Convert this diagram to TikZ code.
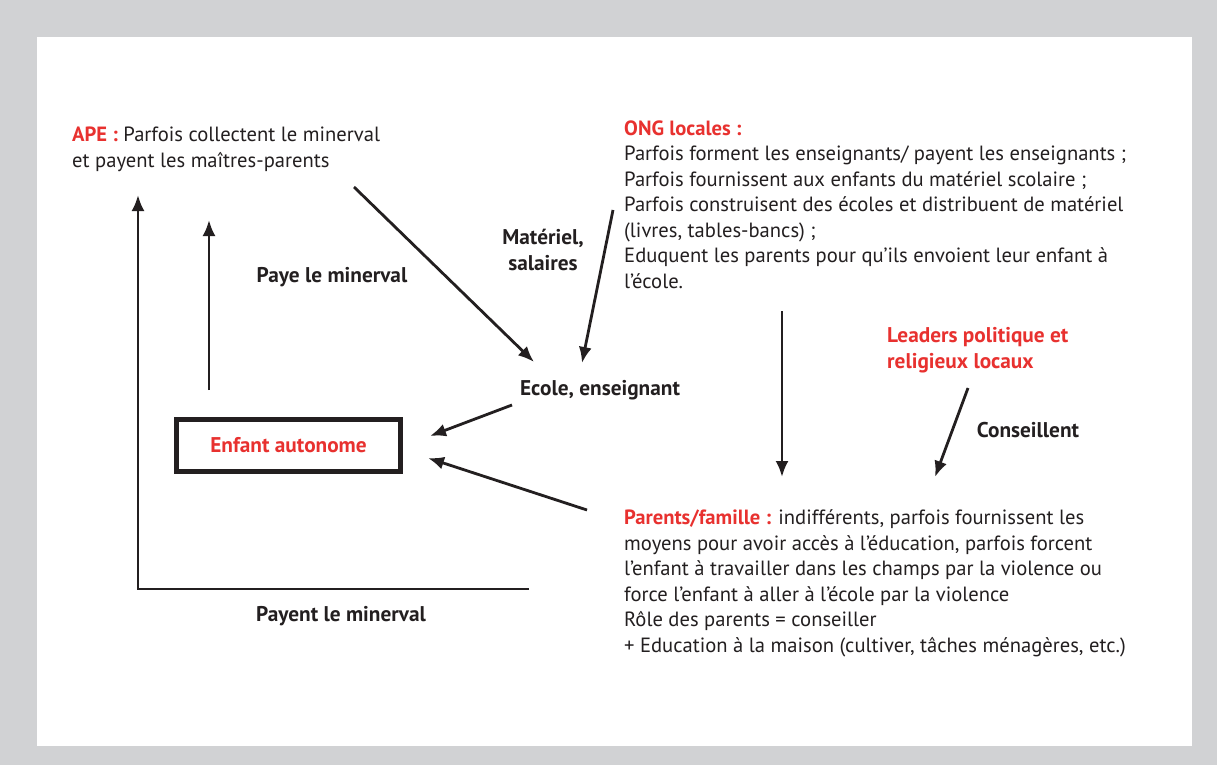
\documentclass[tikz,border=0pt]{standalone}
\usepackage{fontspec}
\setmainfont{PT Sans}
\usetikzlibrary{arrows.meta,positioning}
\definecolor{framegray}{HTML}{D1D2D4}
\definecolor{inkdark}{HTML}{231F20}
\definecolor{keyred}{HTML}{E8312F}
\newcommand{\keyword}[1]{\textcolor{keyred}{\bfseries #1}}

\tikzset{
  body/.style={anchor=base west, align=left, inner sep=0pt, text=inkdark,
    font=\fontsize{20.6}{25.5}\selectfont},
  tag/.style={inner sep=0pt, text=inkdark, align=center,
    font=\fontsize{21.3}{25.5}\selectfont\bfseries},
  flow/.style={line width=2.8pt, draw=inkdark, -{Latex[length=16pt,width=13pt]}},
}

\begin{document}
\begin{tikzpicture}[x=1pt,y=-1pt]
	%%%%% frame %%%%%
	\fill[framegray] (0,0) rectangle (1217,765);
	\fill[white] (37,37) rectangle (1192,746);
	\useasboundingbox (0,0) rectangle (1217,765);
	
	%%%%% actors (base = last line) %%%%%
	\node[body] (ape) at (72,167) {\keyword{APE :} Parfois collectent le minerval\\et payent les maîtres-parents};
	
	\node[body] (ong) at (624,288) {\keyword{ONG locales :}\\
		Parfois forment les enseignants/ payent les enseignants ;\\
		Parfois fournissent aux enfants du matériel scolaire ;\\
		Parfois construisent des écoles et distribuent de matériel\\
		(livres, tables-bancs) ;\\
		Eduquent les parents pour qu’ils envoient leur enfant à\\
		l’école.};
	
	\node[body, font=\fontsize{21.3}{25.5}\selectfont] (leaders) at (887,368) {\keyword{Leaders politique et}\\\keyword{religieux locaux}};
	
	\node[body] (parents) at (624,652) {\keyword{Parents/famille :} indifférents, parfois fournissent les\\
		moyens pour avoir accès à l’éducation, parfois forcent\\
		l’enfant à travailler dans les champs par la violence ou\\
		force l’enfant à aller à l’école par la violence\\
		Rôle des parents = conseiller\\
		+ Education à la maison (cultiver, tâches ménagères, etc.)};
	
	\node[tag] (ecole) at (600,390) {Ecole, enseignant};
	
	\node[draw=inkdark, line width=5pt, minimum width=224pt, minimum height=52.5pt,
		text=keyred, font=\fontsize{21.3}{25.5}\selectfont\bfseries] (enfant) at (288.5,445.25) {Enfant autonome};
	
	%%%%% labels %%%%%
	\node[tag] (paye) at (332,277) {Paye le minerval};
	\node[tag] (materiel) at (543,250) {Matériel,\\salaires};
	\node[tag] (conseil) at (1028,430) {Conseillent};
	\node[tag] (payent) at (341,616) {Payent le minerval};
	
	%%%%% arrow ends %%%%%
	\coordinate (apeout) at (354,187);
	\coordinate (ecoleinA) at (534,362);
	\coordinate (ongout) at (613,210);
	\coordinate (ecoleinB) at (582,363);
	\coordinate (ecoleout) at (512,405);
	\coordinate (enfantinA) at (430,436);
	\coordinate (parentsout) at (587,510);
	\coordinate (enfantinB) at (428,458);
	\coordinate (ongdown) at (782,311);
	\coordinate (parentsinA) at (782,477);
	\coordinate (leadersout) at (968,388);
	\coordinate (parentsinB) at (935,477);
	\coordinate (enfantup) at (209,390);
	\coordinate (apeinA) at (209,220);
	\coordinate (loopend) at (529,589);
	\coordinate (loopcorner) at (138,589);
	\coordinate (apeinB) at (138,195);
	
	%%%%% connectors %%%%%
	\draw[flow] (apeout) -- (ecoleinA);
	\draw[flow] (ongout) -- (ecoleinB);
	\draw[flow] (ecoleout) -- (enfantinA);
	\draw[flow] (parentsout) -- (enfantinB);
	\draw[flow] (ongdown) -- (parentsinA);
	\draw[flow] (leadersout) -- (parentsinB);
	\draw[flow] (enfantup) -- (apeinA);
	\draw[flow] (loopend) -- (loopcorner) -- (apeinB);
\end{tikzpicture}
\end{document}
